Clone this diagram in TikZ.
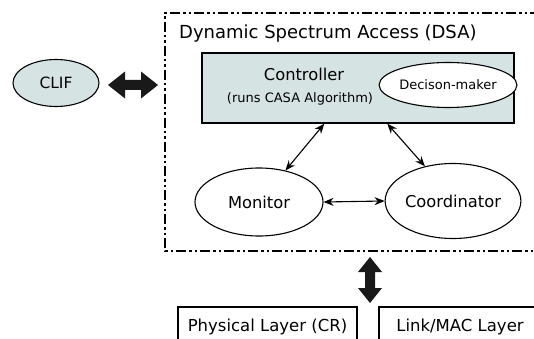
\documentclass[tikz,border=0pt]{standalone}
\usepackage{fontspec}
\setmainfont{DejaVu Sans}
\usetikzlibrary{arrows.meta,shapes.geometric}
\definecolor{fillc}{RGB}{214,227,227}
\begin{document}
\begin{tikzpicture}[x=1pt,y=-1pt,
  dsaline/.style={line width=2pt,dash pattern=on 10pt off 3pt on 2.5pt off 3pt on 2.5pt off 3pt},
  oval/.style={ellipse,draw,line width=1.1pt,inner sep=0pt,font=\fontsize{16.3}{18}\selectfont},
  ctrlbox/.style={rectangle,draw,line width=1.4pt,fill=fillc,inner sep=0pt},
  layerbox/.style={rectangle,draw,line width=1.1pt,inner sep=0pt,font=\fontsize{16.5}{18}\selectfont},
  thin/.style={line width=1.1pt,{Stealth[length=10pt,width=8pt]}-{Stealth[length=10pt,width=8pt]}},
  fat/.style={fill=black!90,draw=none}]
\useasboundingbox (0,0) rectangle (534,339);
% DSA frame
\draw[dsaline] (540,13) -- (165,13) -- (165,251) -- (540,251);
\node[anchor=base west,inner sep=0pt,font=\fontsize{18}{20}\selectfont] (title) at (179,39) {Dynamic Spectrum Access (DSA)};
% Controller
\node[ctrlbox,minimum width=312pt,minimum height=70pt] (ctrl) at (358,88) {};
\node[inner sep=0pt,font=\fontsize{16.3}{18}\selectfont] (ctrltxt) at (304,74) {Controller};
\node[inner sep=0pt,font=\fontsize{13}{15}\selectfont] (runs) at (300,99) {(runs CASA Algorithm)};
\node[oval,fill=white,minimum width=111pt,minimum height=45pt,font=\fontsize{13}{15}\selectfont] (dm) at (448,85) {Decison-maker};
% CLIF
\node[oval,fill=fillc,minimum width=86pt,minimum height=47pt,font=\fontsize{15.5}{18}\selectfont] (clif) at (56,83) {CLIF};
\fill[fat] (108,85) -- (125,71.5) -- (125,80) -- (141,80) -- (141,71.5) -- (158,85)
  -- (141,98.5) -- (141,90) -- (125,90) -- (125,98.5) -- cycle;
% Monitor / Coordinator
\node[oval,minimum width=128pt,minimum height=68pt] (mon) at (259,202) {Monitor};
\node[oval,minimum width=127pt,minimum height=75pt] (coord) at (453,201) {Coordinator};
\path (ctrl.south west) ++(123,0) coordinate (c1);
\path (ctrl.south west) ++(186,0) coordinate (c2);
\draw[thin] (c1) -- (mon.50);
\draw[thin] (c2) -- (coord.129);
\draw[thin] (mon.east) -- (coord.west);
% vertical fat arrow
\fill[fat] (370,257) -- (382,272) -- (375,272) -- (375,288) -- (382,288) -- (370,303)
  -- (358,288) -- (365,288) -- (365,272) -- (358,272) -- cycle;
% layers
\node[layerbox,minimum width=179pt,minimum height=40pt] (phy) at (267.5,327) {Physical Layer (CR)};
\node[layerbox,minimum width=162pt,minimum height=40pt] (mac) at (460,327) {Link/MAC Layer};
\end{tikzpicture}
\end{document}
